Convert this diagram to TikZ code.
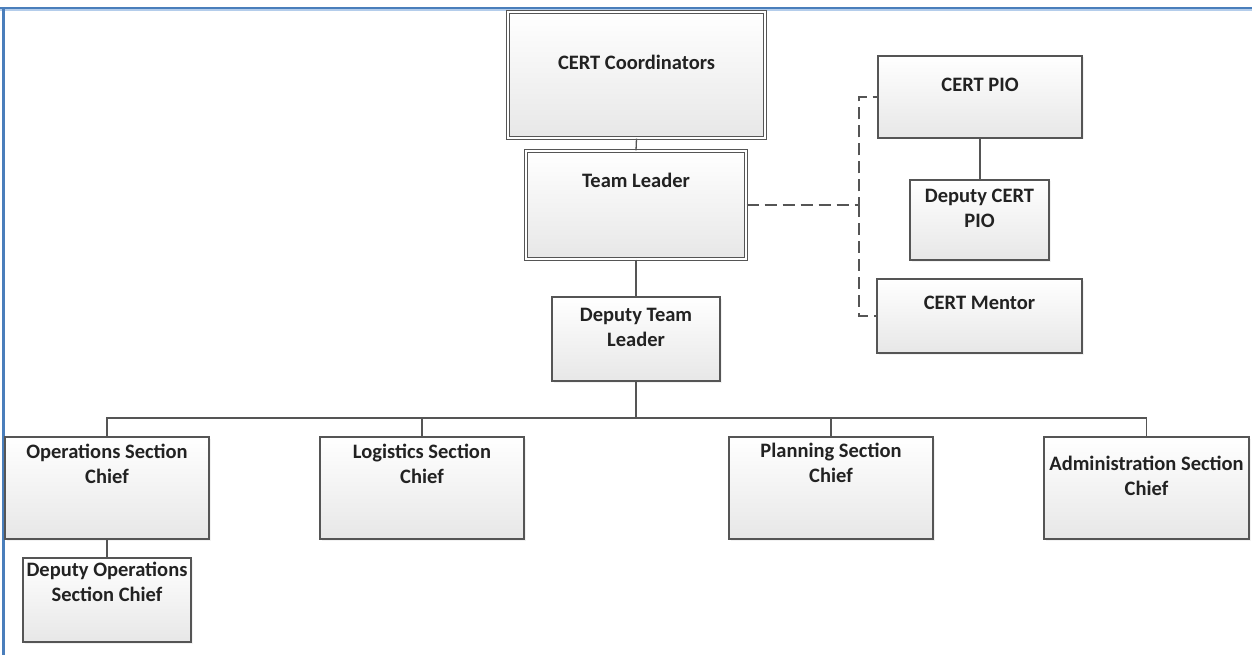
\documentclass[tikz,border=0pt]{standalone}
\usepackage{fontspec}
\setmainfont{Carlito}
\usetikzlibrary{shadows}
\definecolor{edge}{HTML}{555555}
\definecolor{boxbot}{HTML}{E7E7E7}
\definecolor{frameblue}{HTML}{4A7EBB}
\definecolor{framelight}{HTML}{B4CDEB}
\definecolor{txt}{HTML}{222222}
\begin{document}
\begin{tikzpicture}[x=1pt,y=-1pt,
  box/.style={draw=edge, line width=1.3pt, top color=white, bottom color=boxbot,
    inner sep=0pt, drop shadow={opacity=0.10, shadow xshift=1.5pt, shadow yshift=-1.5pt}},
  dbox/.style={box, double=white, double distance=1.6pt, line width=1.1pt},
  lab/.style={anchor=north, inner sep=0pt, align=center, text=txt,
    font=\fontsize{20.5}{24.5}\selectfont\bfseries},
  conn/.style={draw=edge, line width=1.3pt},
  dashline/.style={draw=edge, line width=1.3pt, dash pattern=on 12pt off 6pt}]
\useasboundingbox (0,0) rectangle (1252,655);
\fill[white] (0,0) rectangle (1252,655);
% frame
\draw[framelight, line width=1.5pt] (0,10.2) -- (1252,10.2);
\draw[frameblue, line width=2.6pt] (0,8) -- (1252,8);
\draw[frameblue, line width=2.6pt] (3.5,8) -- (3.5,655);
% boxes
\node[dbox, minimum width=257pt, minimum height=126pt,
  label={[lab, yshift=-43pt]north:CERT Coordinators}] (coord) at (636.5,75) {};
\node[dbox, minimum width=220pt, minimum height=108pt,
  label={[lab, yshift=-22pt]north:Team Leader}] (tl) at (636,205) {};
\node[box, minimum width=168pt, minimum height=84pt,
  label={[lab, yshift=-12pt]north:Deputy Team\\Leader}] (dtl) at (636,339) {};
\node[box, minimum width=204pt, minimum height=82pt,
  label={[lab, yshift=-23pt]north:CERT PIO}] (pio) at (980,97) {};
\node[box, minimum width=139pt, minimum height=80pt,
  label={[lab, yshift=-10pt]north:Deputy CERT\\PIO}] (dpio) at (979.5,220) {};
\node[box, minimum width=205pt, minimum height=74pt,
  label={[lab, yshift=-18pt]north:CERT Mentor}] (mentor) at (979.5,316) {};
\node[box, minimum width=204pt, minimum height=102pt,
  label={[lab, yshift=-8pt]north:Operations Section\\Chief}] (ops) at (107,488) {};
\node[box, minimum width=168pt, minimum height=84pt,
  label={[lab, yshift=-5pt]north:Deputy Operations\\Section Chief}] (dops) at (107,600) {};
\node[box, minimum width=204pt, minimum height=102pt,
  label={[lab, yshift=-8pt]north:Logistics Section\\Chief}] (log) at (422,488) {};
\node[box, minimum width=204pt, minimum height=102pt,
  label={[lab, yshift=-7pt]north:Planning Section\\Chief}] (plan) at (831,488) {};
\node[box, minimum width=205pt, minimum height=102pt,
  label={[lab, yshift=-20pt]north:Administration Section\\Chief}] (admin) at (1146.5,488) {};
% connectors
\coordinate (bus) at (636,418);
\coordinate (dj) at (859,205);
\draw[conn] (coord.south) -- (tl.north);
\draw[conn] (tl.south) -- (dtl.north);
\draw[conn] (dtl.south) -- (bus);
\draw[conn] (ops.north) |- (bus) -| (admin.north);
\draw[conn] (bus) -| (log.north);
\draw[conn] (bus) -| (plan.north);
\draw[conn] (ops.south) -- (dops.north);
\draw[conn] (pio.south) -- (pio.south |- dpio.north);
\draw[dashline] (tl.east) -- (dj) |- (pio.west);
\draw[dashline] (dj) |- (mentor.west);
\end{tikzpicture}
\end{document}
